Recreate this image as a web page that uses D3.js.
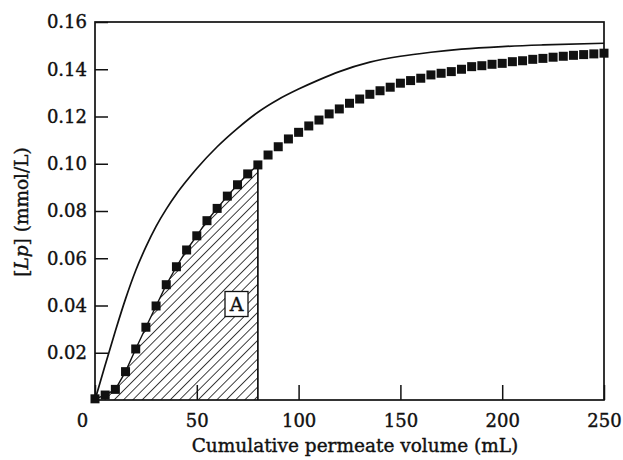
<!DOCTYPE html>
<html>
<head>
<meta charset="utf-8">
<script src="https://cdn.jsdelivr.net/npm/d3@7"></script>
<style>
  html, body { margin: 0; padding: 0; background: #fff; }
  svg { display: block; }
  text { font-family: "DejaVu Serif", "Liberation Serif", serif; fill: #111; stroke: #111; stroke-width: 0.4px; }
</style>
</head>
<body>
<svg id="chart" width="623" height="460"></svg>
<script>
// ---- data ----
const volumes = [0,5,10,15,20,25,30,35,40,45,50,55,60,65,70,75,80,85,90,95,100,105,110,115,120,125,130,135,140,145,150,155,160,165,170,175,180,185,190,195,200,205,210,215,220,225,230,235,240,245,250];
const lpMeasured = [0.0005,0.0021,0.0045,0.0120,0.0216,0.0308,0.0398,0.0488,0.0564,0.0635,0.0695,0.0759,0.0811,0.0863,0.0911,0.0957,0.0995,0.1037,0.1072,0.1105,0.1133,0.1160,0.1185,0.1211,0.1232,0.1256,0.1274,0.1294,0.1309,0.1324,0.1341,0.1352,0.1362,0.1376,0.1383,0.1390,0.1400,0.1411,0.1415,0.1421,0.1425,0.1432,0.1436,0.1442,0.1446,0.1451,0.1455,0.1459,0.1462,0.1465,0.1468];
const curveVolumes = [0,5,10,15,20,25,30,35,40,45,50,60,70,80,90,100,110,120,135,150,165,180,200,220,250];
const lpModel = [0,0.0148,0.0292,0.0428,0.0548,0.0648,0.0735,0.0808,0.0872,0.0928,0.0980,0.1072,0.1150,0.1218,0.1272,0.1316,0.1355,0.1390,0.1430,0.1455,0.1472,0.1485,0.1496,0.1503,0.1510];
const areaLimit = 80;           // shaded region "A" ends at 80 mL
const xTicks = [0,50,100,150,200,250];
const yTicks = [0.02,0.04,0.06,0.08,0.10,0.12,0.14,0.16];
const xTitle = "Cumulative permeate volume (mL)";

// ---- layout ----
const svg = d3.select("#chart");
const W = 623, H = 460;
const m = {left: 95, right: 19, top: 22, bottom: 60};
const x = d3.scaleLinear().domain([0, 250]).range([m.left, W - m.right]);
const y = d3.scaleLinear().domain([0, 0.16]).range([H - m.bottom, m.top]);

// hatch pattern
const defs = svg.append("defs");
defs.append("pattern")
  .attr("id", "hatch")
  .attr("patternUnits", "userSpaceOnUse")
  .attr("width", 6.6).attr("height", 6.6)
  .attr("patternTransform", "rotate(45)")
  .append("line")
  .attr("x1", 0).attr("y1", 0).attr("x2", 0).attr("y2", 6.6)
  .attr("stroke", "#111").attr("stroke-width", 1.6);

const pts = volumes.map((v, i) => ({v, c: lpMeasured[i]}));
const shaded = pts.filter(d => d.v <= areaLimit);

// shaded area A
svg.append("path")
  .datum(shaded)
  .attr("d", d3.area().x(d => x(d.v)).y0(y(0)).y1(d => y(d.c)))
  .attr("fill", "url(#hatch)")
  .attr("stroke", "none");

// outline of the area (line through points + vertical edge)
svg.append("path")
  .datum(shaded)
  .attr("d", d3.line().x(d => x(d.v)).y(d => y(d.c)))
  .attr("fill", "none").attr("stroke", "#111").attr("stroke-width", 1.4);
const last = shaded[shaded.length - 1];
svg.append("line")
  .attr("x1", x(last.v)).attr("x2", x(last.v))
  .attr("y1", y(0)).attr("y2", y(last.c))
  .attr("stroke", "#111").attr("stroke-width", 1.7);

// model curve
const modelPts = curveVolumes.map((v, i) => ({v, c: lpModel[i]}));
svg.append("path")
  .datum(modelPts)
  .attr("d", d3.line().curve(d3.curveMonotoneX).x(d => x(d.v)).y(d => y(d.c)))
  .attr("fill", "none").attr("stroke", "#111").attr("stroke-width", 1.7);

// axes
const fmt = d3.format(".2f");
const yAxis = svg.append("g")
  .attr("transform", `translate(${m.left},0)`)
  .call(d3.axisLeft(y).tickValues(yTicks).tickFormat(fmt).tickSize(-13).tickPadding(8));
const xAxis = svg.append("g")
  .attr("transform", `translate(0,${H - m.bottom})`)
  .call(d3.axisBottom(x).tickValues(xTicks).tickFormat(d3.format("d")).tickSize(-15).tickPadding(14));
[yAxis, xAxis].forEach(g => {
  g.select(".domain").remove();
  g.selectAll(".tick line").attr("stroke", "#111").attr("stroke-width", 1.5);
  g.selectAll(".tick text").attr("font-size", 18).attr("font-family", "DejaVu Serif").attr("fill", "#111");
});
xAxis.selectAll(".tick text").filter(d => d === 0).attr("dx", -13);

// frame
svg.append("rect")
  .attr("x", x(0)).attr("y", y(0.16))
  .attr("width", x(250) - x(0)).attr("height", y(0) - y(0.16))
  .attr("fill", "none").attr("stroke", "#111").attr("stroke-width", 1.7);

// markers
svg.append("g").selectAll("rect")
  .data(pts).join("rect")
  .attr("x", d => x(d.v) - 4.5).attr("y", d => y(d.c) - 4.5)
  .attr("width", 9).attr("height", 9)
  .attr("fill", "#111");

// label box A
const ax = 236.5, ay = 304;
svg.append("rect")
  .attr("x", ax - 11.5).attr("y", ay - 12.5).attr("width", 23).attr("height", 25)
  .attr("fill", "#fff").attr("stroke", "#111").attr("stroke-width", 1.3);
svg.append("text")
  .attr("x", ax).attr("y", ay + 7)
  .attr("text-anchor", "middle").attr("font-size", 19).text("A");

// axis titles
svg.append("text")
  .attr("x", 355).attr("y", 452)
  .attr("text-anchor", "middle").attr("font-size", 18.5).text(xTitle);

const yt = svg.append("text")
  .attr("transform", "translate(28,212) rotate(-90)")
  .attr("text-anchor", "middle").attr("font-size", 18.5);
yt.append("tspan").text("[");
yt.append("tspan").attr("font-style", "italic").text("Lp");
yt.append("tspan").text("] (mmol/L)");
</script>
</body>
</html>
